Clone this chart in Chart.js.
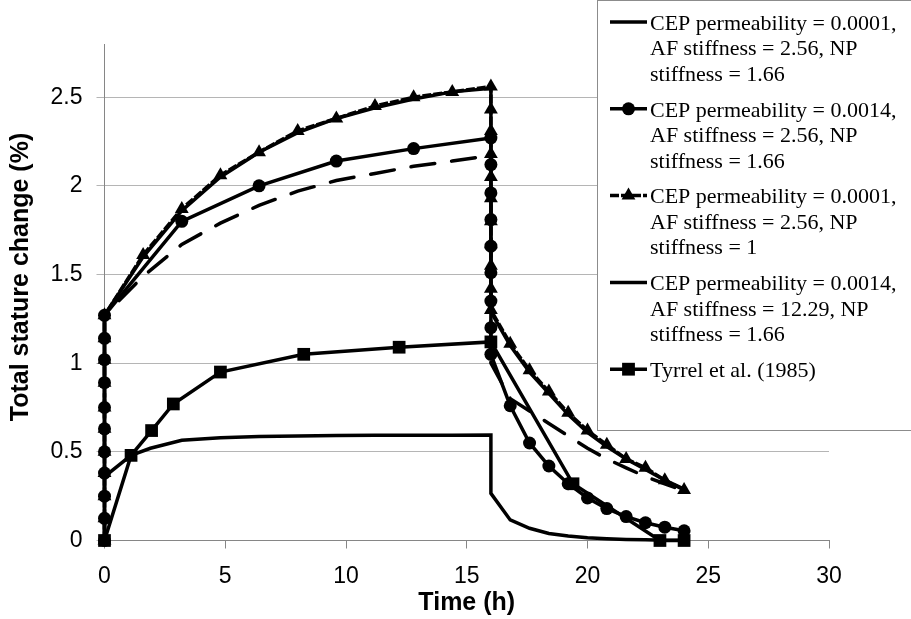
<!DOCTYPE html>
<html>
<head>
<meta charset="utf-8">
<script src="https://cdn.jsdelivr.net/npm/chart.js@4"></script>
<style>
  body { margin: 0; background: #fff; }
  #wrap { width: 911px; height: 619px; }
</style>
</head>
<body>
<div id="wrap"><canvas id="myChart" width="911" height="619"></canvas></div>
<script>
// DATA (time in hours, total stature change in %)
var legendLabels = [
  ["CEP permeability = 0.0001,", "AF stiffness = 2.56, NP", "stiffness = 1.66"],
  ["CEP permeability = 0.0014,", "AF stiffness = 2.56, NP", "stiffness = 1.66"],
  ["CEP permeability = 0.0001,", "AF stiffness = 2.56, NP", "stiffness = 1"],
  ["CEP permeability = 0.0014,", "AF stiffness = 12.29, NP", "stiffness = 1.66"],
  ["Tyrrel et al. (1985)"]
];

var xTitle = "Time (h)";
var yTitle = "Total stature change (%)";

// series 1 - solid, no markers
var s1Time = [0, 0, 1.6, 3.2, 4.8, 6.4, 8, 9.6, 11.2, 12.8, 14.4, 16, 16, 16.8, 17.6, 18.4, 19.2, 20, 20.8, 21.6, 22.4, 23.2, 24];
var s1Value = [0, 1.27, 1.60, 1.86, 2.05, 2.19, 2.30, 2.38, 2.44, 2.49, 2.53, 2.55, 1.29, 1.10, 0.95, 0.83, 0.71, 0.61, 0.53, 0.46, 0.40, 0.34, 0.29];

// series 2 - circles
var s2Time = [0, 0, 0, 0, 0, 0, 0, 0, 0, 0, 0, 3.2, 6.4, 9.6, 12.8, 16, 16, 16, 16, 16, 16, 16, 16, 16, 16.8, 17.6, 18.4, 19.2, 20, 20.8, 21.6, 22.4, 23.2, 24];
var s2Value = [0, 0.125, 0.25, 0.38, 0.50, 0.63, 0.75, 0.89, 1.02, 1.14, 1.27, 1.80, 2.00, 2.14, 2.21, 2.27, 2.12, 1.96, 1.81, 1.66, 1.51, 1.35, 1.20, 1.05, 0.76, 0.55, 0.42, 0.32, 0.24, 0.18, 0.135, 0.10, 0.075, 0.055];

// series 3 - triangles
var s3Time = [0, 0, 0, 0, 0, 0, 0, 0, 0, 0, 0, 1.6, 3.2, 4.8, 6.4, 8, 9.6, 11.2, 12.8, 14.4, 16, 16, 16, 16, 16, 16, 16, 16, 16, 16, 16, 16.8, 17.6, 18.4, 19.2, 20, 20.8, 21.6, 22.4, 23.2, 24];
var s3Value = [0, 0.125, 0.25, 0.38, 0.50, 0.63, 0.75, 0.89, 1.02, 1.14, 1.27, 1.61, 1.87, 2.06, 2.19, 2.31, 2.38, 2.45, 2.50, 2.53, 2.56, 2.43, 2.31, 2.18, 2.05, 1.93, 1.80, 1.67, 1.55, 1.42, 1.30, 1.11, 0.96, 0.84, 0.72, 0.62, 0.54, 0.46, 0.41, 0.34, 0.285];

// series 4 - long dashes
var s4Time = [0, 0, 1.6, 3.2, 4.8, 6.4, 8, 9.6, 11.2, 12.8, 14.4, 16, 16, 16.8, 17.6, 18.4, 19.2, 20, 20.8, 21.6, 22.4, 23.2, 24];
var s4Value = [0, 1.27, 1.49, 1.67, 1.79, 1.89, 1.97, 2.03, 2.07, 2.11, 2.14, 2.17, 1.00, 0.80, 0.73, 0.66, 0.59, 0.52, 0.46, 0.41, 0.36, 0.32, 0.28];

// Tyrrel et al. (1985) - squares
var tyTime = [0, 1.1, 1.95, 2.85, 4.8, 8.25, 12.2, 16, 19.4, 23, 24];
var tyValue = [0, 0.48, 0.62, 0.77, 0.95, 1.05, 1.09, 1.12, 0.32, 0, 0];

// extra curve (not in legend)
var s6Time = [0, 1.1, 1.9, 3.2, 4.8, 6.4, 8, 9.6, 11.2, 12.8, 14.4, 16, 16, 16.8, 17.6, 18.4, 19.2, 20, 20.8, 21.6, 22.4, 23.2, 24];
var s6Value = [0.36, 0.48, 0.52, 0.565, 0.58, 0.587, 0.59, 0.592, 0.593, 0.594, 0.594, 0.595, 0.266, 0.116, 0.069, 0.04, 0.025, 0.015, 0.01, 0.006, 0.004, 0.002, 0.001];

var yTicks = [0, 0.5, 1, 1.5, 2, 2.5];

function punti(xs, ys) {
  return xs.map(function (x, i) { return { x: x, y: ys[i] }; });
}

var sansFont = "'Liberation Sans', Arial, sans-serif";
var serifFont = "'Liberation Serif', 'Times New Roman', serif";

function serie(label, xs, ys, extra) {
  var d = {
    label: label,
    data: punti(xs, ys),
    borderColor: "#000",
    backgroundColor: "#000",
    borderWidth: 3.5,
    pointRadius: 0,
    pointBorderWidth: 0,
    showLine: true,
    tension: 0,
    clip: false
  };
  for (var k in extra) d[k] = extra[k];
  return d;
}

var datasets = [
  serie(legendLabels[2].join(" "), s3Time, s3Value, { order: 0, borderDash: [9, 2], pointStyle: "triangle", pointRadius: 8 }),
  serie(legendLabels[0].join(" "), s1Time, s1Value, { order: 1 }),
  serie(legendLabels[1].join(" "), s2Time, s2Value, { order: 2, pointStyle: "circle", pointRadius: 6.5 }),
  serie(legendLabels[3].join(" "), s4Time, s4Value, { order: 3, borderDash: [24, 17], borderCapStyle: "round" }),
  serie(legendLabels[4][0], tyTime, tyValue, { order: 4, pointStyle: "rect", pointRadius: 9 }),
  serie("", s6Time, s6Value, { order: 5 })
];

// legend drawn as a box on top of the plot
var legendBox = {
  id: "legendBox",
  afterDraw: function (chart) {
    var ctx = chart.ctx;
    ctx.save();
    ctx.fillStyle = "#fff";
    ctx.fillRect(597.5, 0.5, 320, 430);
    ctx.strokeStyle = "#8c8c8c";
    ctx.lineWidth = 1;
    ctx.strokeRect(597.5, 0.5, 320, 430);

    var stili = ["none", "circle", "triangle", "none", "rect"];
    var dash = [[], [], [9, 2], [], []];
    ctx.font = "22px " + serifFont;
    ctx.textBaseline = "middle";
    ctx.textAlign = "left";
    for (var i = 0; i < legendLabels.length; i++) {
      var y0 = 22 + i * 86.8;
      ctx.strokeStyle = "#000";
      ctx.fillStyle = "#000";
      ctx.lineWidth = 3.5;
      ctx.setLineDash(dash[i]);
      ctx.beginPath();
      ctx.moveTo(610, y0);
      ctx.lineTo(647, y0);
      ctx.stroke();
      ctx.setLineDash([]);
      var cx = 628.5;
      if (stili[i] === "circle") {
        ctx.beginPath();
        ctx.arc(cx, y0, 6.5, 0, Math.PI * 2);
        ctx.fill();
      } else if (stili[i] === "triangle") {
        ctx.beginPath();
        ctx.moveTo(cx, y0 - 8);
        ctx.lineTo(cx + 6.9, y0 + 4);
        ctx.lineTo(cx - 6.9, y0 + 4);
        ctx.closePath();
        ctx.fill();
      } else if (stili[i] === "rect") {
        ctx.fillRect(cx - 6.4, y0 - 6.4, 12.8, 12.8);
      }
      for (var r = 0; r < legendLabels[i].length; r++) {
        ctx.fillText(legendLabels[i][r], 650, y0 + 2 + r * 25.5);
      }
    }

    // y axis title
    ctx.translate(21, 277);
    ctx.rotate(-Math.PI / 2);
    ctx.font = "bold 25px " + sansFont;
    ctx.textAlign = "center";
    ctx.fillText(yTitle, 0, 0);
    ctx.restore();
  }
};

new Chart("myChart", {
  type: "scatter",
  data: { datasets: datasets },
  options: {
    responsive: false,
    animation: false,
    devicePixelRatio: 1,
    layout: { padding: { top: 44, right: 82, left: 0, bottom: 0 } },
    plugins: {
      legend: { display: false },
      tooltip: { enabled: false }
    },
    scales: {
      x: {
        type: "linear",
        min: 0,
        max: 30,
        ticks: { stepSize: 5, color: "#000", padding: 14, font: { family: sansFont, size: 23 } },
        grid: { drawOnChartArea: false, drawTicks: true, tickLength: 8, tickColor: "#868686" },
        border: { color: "#868686", width: 1 },
        title: {
          display: true,
          text: xTitle,
          color: "#000",
          font: { family: sansFont, size: 25, weight: "bold" },
          padding: { top: 0, bottom: 1 }
        },
        afterFit: function (s) { s.height = 78.5; }
      },
      y: {
        min: 0,
        max: 2.8,
        ticks: {
          stepSize: 0.5,
          color: "#000",
          padding: 14,
          font: { family: sansFont, size: 23 },
          callback: function (v) { return String(Number(v)); }
        },
        afterBuildTicks: function (s) {
          s.ticks = yTicks.map(function (v) { return { value: v }; });
        },
        grid: { color: "#b5b5b5", lineWidth: 1, tickLength: 8, tickColor: "#b5b5b5" },
        border: { color: "#868686", width: 1 },
        afterFit: function (s) { s.width = 104.5; }
      }
    }
  },
  plugins: [legendBox]
});
</script>
</body>
</html>
